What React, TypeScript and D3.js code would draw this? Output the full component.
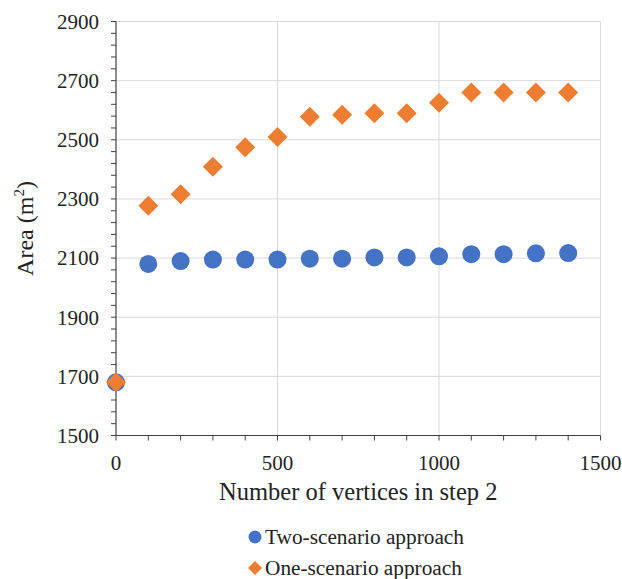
import React from "react";
import * as d3 from "d3";

const xValues = [0, 100, 200, 300, 400, 500, 600, 700, 800, 900, 1000, 1100, 1200, 1300, 1400];
const twoScenario = [1680, 2080, 2090, 2095, 2095, 2095, 2098, 2098, 2102, 2102, 2106, 2113, 2113, 2116, 2117];
const oneScenario = [1680, 2277, 2316, 2409, 2475, 2509, 2578, 2585, 2590, 2590, 2625, 2660, 2660, 2660, 2660];
const yTicks = [1500, 1700, 1900, 2100, 2300, 2500, 2700, 2900];
const xTicks = [0, 500, 1000, 1500];
const seriesNames = ["Two-scenario approach", "One-scenario approach"];

const BLUE = "#4472C4";
const ORANGE = "#ED7D31";
const FONT = "'Liberation Serif', 'Times New Roman', serif";

export default function App() {
  const W = 622, H = 579;
  const left = 116, right = 600.5, top = 21.5, bottom = 435.5;
  const x = d3.scaleLinear().domain([0, 1500]).range([left, right]);
  const y = d3.scaleLinear().domain([1500, 2900]).range([bottom, top]);
  const yMinor = d3.range(1500, 2901, 40);
  const xMinor = d3.range(0, 1501, 100);
  const diamond = (cx: number, cy: number, r: number) =>
    `M${cx},${cy - r}L${cx + r},${cy}L${cx},${cy + r}L${cx - r},${cy}Z`;

  return (
    <svg width={W} height={H} style={{ position: "absolute", left: 0, top: 0, background: "#fff" }}>
      <rect width={W} height={H} fill="#fff" />
      {/* gridlines */}
      {yTicks.map((t) => (
        <line key={"gy" + t} x1={left} x2={right} y1={y(t)} y2={y(t)} stroke="#d9d9d9" strokeWidth={1} />
      ))}
      {xTicks.filter((t) => t > 0).map((t) => (
        <line key={"gx" + t} x1={x(t)} x2={x(t)} y1={top} y2={bottom} stroke="#d9d9d9" strokeWidth={1} />
      ))}
      {/* axes */}
      <line x1={left} x2={left} y1={top} y2={bottom} stroke="#404040" strokeWidth={1.2} />
      <line x1={left} x2={right} y1={bottom} y2={bottom} stroke="#404040" strokeWidth={1.2} />
      {yMinor.map((t) => (
        <line key={"ym" + t} x1={left - 5} x2={left} y1={y(t)} y2={y(t)} stroke="#404040" strokeWidth={1} />
      ))}
      {xMinor.map((t) => (
        <line key={"xm" + t} x1={x(t)} x2={x(t)} y1={bottom} y2={bottom + 5} stroke="#404040" strokeWidth={1} />
      ))}
      {/* tick labels */}
      {yTicks.map((t) => (
        <text key={"yl" + t} x={left - 17} y={y(t)} dy="0.35em" textAnchor="end" fontFamily={FONT} fontSize={21} fill="#222">
          {t}
        </text>
      ))}
      {xTicks.map((t) => (
        <text key={"xl" + t} x={x(t)} y={bottom + 34} textAnchor="middle" fontFamily={FONT} fontSize={21} fill="#222">
          {t}
        </text>
      ))}
      {/* axis titles */}
      <text transform={`translate(33,${(top + bottom) / 2}) rotate(-90)`} textAnchor="middle" fontFamily={FONT} fontSize={24} fill="#222">
        Area (m<tspan dy={-9} fontSize={15}>2</tspan><tspan dy={9}>)</tspan>
      </text>
      <text x={(left + right) / 2} y={500} textAnchor="middle" fontFamily={FONT} fontSize={24.5} fill="#222">
        Number of vertices in step 2
      </text>
      {/* data */}
      {xValues.map((v, i) => (
        <circle key={"b" + i} cx={x(v)} cy={y(twoScenario[i])} r={9} fill={BLUE} />
      ))}
      {xValues.map((v, i) => (
        <path key={"o" + i} d={diamond(x(v), y(oneScenario[i]), 10)} fill={ORANGE} />
      ))}
      {/* legend */}
      <circle cx={255} cy={537} r={6.5} fill={BLUE} />
      <text x={265} y={537} dy="0.35em" fontFamily={FONT} fontSize={21.3} fill="#222">{seriesNames[0]}</text>
      <path d={diamond(255, 568, 7)} fill={ORANGE} />
      <text x={265} y={568} dy="0.35em" fontFamily={FONT} fontSize={21.3} fill="#222">{seriesNames[1]}</text>
    </svg>
  );
}
